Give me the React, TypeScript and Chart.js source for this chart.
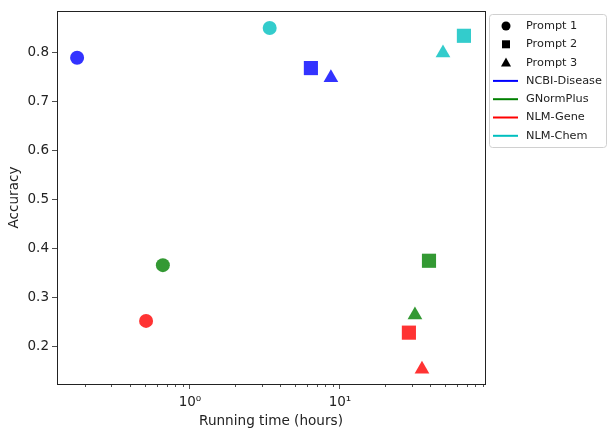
import React, { useRef, useEffect } from 'react';
import { Chart, registerables } from 'chart.js';

Chart.register(...registerables);

// running time (hours) and accuracy, per dataset, ordered Prompt 1, Prompt 2, Prompt 3
const ncbiTime = [0.177, 6.4, 8.7];
const ncbiAcc = [0.79, 0.769, 0.749];
const gnormTime = [0.66, 39.2, 31.6];
const gnormAcc = [0.366, 0.375, 0.264];
const geneTime = [0.51, 28.8, 35.2];
const geneAcc = [0.252, 0.228, 0.153];
const chemTime = [3.4, 67, 48.6];
const chemAcc = [0.851, 0.835, 0.8];

const promptLabels = ['Prompt 1', 'Prompt 2', 'Prompt 3'];
const datasetLabels = ['NCBI-Disease', 'GNormPlus', 'NLM-Gene', 'NLM-Chem'];
const yTicks = [0.2, 0.3, 0.4, 0.5, 0.6, 0.7, 0.8];
const xMajor = [1, 10];
const xMinor = [0.2, 0.3, 0.4, 0.5, 0.6, 0.7, 0.8, 0.9, 2, 3, 4, 5, 6, 7, 8, 9, 20, 30, 40, 50, 60, 70, 80, 90];

const lineColors = ['#0000ff', '#008000', '#ff0000', '#00bfbf'];
const fillColors = ['rgba(0,0,255,0.8)', 'rgba(0,128,0,0.8)', 'rgba(255,0,0,0.8)', 'rgba(0,191,191,0.8)'];
const shapes = ['circle', 'rect', 'triangle'];
const sizes = [7, 10, 8.5];
const FONT = "'DejaVu Sans', sans-serif";

const frameAndLegend = {
  id: 'frameAndLegend',
  afterDraw(chart: any) {
    const { ctx, chartArea: a } = chart;
    const xs = chart.scales.x;
    ctx.save();
    // minor ticks on the log axis
    ctx.strokeStyle = '#222';
    ctx.lineWidth = 0.8;
    xMinor.forEach((v) => {
      const px = Math.round(xs.getPixelForValue(v)) + 0.5;
      if (px < a.left || px > a.right) return;
      ctx.beginPath();
      ctx.moveTo(px, a.bottom);
      ctx.lineTo(px, a.bottom + 3);
      ctx.stroke();
    });
    // spines
    ctx.lineWidth = 1;
    ctx.strokeStyle = '#222';
    ctx.strokeRect(Math.round(a.left) + 0.5, Math.round(a.top) + 0.5, Math.round(a.right - a.left), Math.round(a.bottom - a.top));

    // legend
    const lx = 489, ly = 14, lw = 118, lh = 133;
    ctx.fillStyle = 'rgba(255,255,255,0.8)';
    ctx.strokeStyle = '#d0d0d0';
    ctx.beginPath();
    ctx.roundRect(lx + 0.5, ly + 0.5, lw - 1, lh, 3);
    ctx.fill();
    ctx.stroke();
    ctx.font = `11.3px ${FONT}`;
    ctx.textBaseline = 'middle';
    const rowY = (i: number) => ly + 12 + i * 18.3;
    promptLabels.forEach((lab, i) => {
      const cy = rowY(i);
      const cx = 506;
      ctx.fillStyle = '#000';
      ctx.beginPath();
      if (i === 0) ctx.arc(cx, cy, 4.5, 0, Math.PI * 2);
      else if (i === 1) ctx.rect(cx - 4, cy - 4, 8, 8);
      else {
        ctx.moveTo(cx, cy - 5);
        ctx.lineTo(cx + 5, cy + 4);
        ctx.lineTo(cx - 5, cy + 4);
        ctx.closePath();
      }
      ctx.fill();
      ctx.fillStyle = '#222';
      ctx.fillText(lab, 526, cy);
    });
    datasetLabels.forEach((lab, i) => {
      const cy = rowY(i + 3);
      ctx.strokeStyle = lineColors[i];
      ctx.lineWidth = 2;
      ctx.beginPath();
      ctx.moveTo(493, cy);
      ctx.lineTo(518, cy);
      ctx.stroke();
      ctx.fillStyle = '#222';
      ctx.fillText(lab, 526, cy);
    });
    ctx.restore();
  },
};

const ScatterChart: React.FC = () => {
  const chartRef = useRef<HTMLCanvasElement | null>(null);

  useEffect(() => {
    if (!chartRef.current) return;
    const times = [ncbiTime, gnormTime, geneTime, chemTime];
    const accs = [ncbiAcc, gnormAcc, geneAcc, chemAcc];

    const chart = new Chart(chartRef.current, {
      type: 'scatter',
      data: {
        datasets: datasetLabels.map((label, i) => ({
          label,
          data: times[i].map((t, j) => ({ x: t, y: accs[i][j] })),
          pointStyle: shapes,
          pointRadius: sizes,
          pointBackgroundColor: fillColors[i],
          pointBorderColor: fillColors[i],
          pointBorderWidth: 0,
          showLine: false,
        })),
      },
      options: {
        animation: false,
        responsive: true,
        maintainAspectRatio: false,
        layout: { padding: { top: 10, right: 123, left: 0, bottom: 0 } },
        plugins: { legend: { display: false }, tooltip: { enabled: false } },
        scales: {
          x: {
            type: 'logarithmic',
            min: 0.13,
            max: 92.6,
            afterBuildTicks: (scale: any) => {
              scale.ticks = xMajor.map((v) => ({ value: v, major: true }));
            },
            afterFit: (scale: any) => {
              scale.height = 49;
            },
            border: { display: false },
            grid: { drawOnChartArea: false, tickLength: 5, tickColor: '#222', tickWidth: 0.8 },
            ticks: {
              color: '#222',
              font: { family: FONT, size: 13.5 },
              padding: 5,
              maxRotation: 0,
              autoSkip: false,
              callback: (v: any) => (v === 1 ? '10\u2070' : v === 10 ? '10\u00b9' : ''),
            },
            title: {
              display: true,
              text: 'Running time (hours)',
              color: '#222',
              font: { family: FONT, size: 13.6 },
              padding: { top: 0, bottom: 3 },
            },
          },
          y: {
            min: 0.123,
            max: 0.8855,
            afterBuildTicks: (scale: any) => {
              scale.ticks = yTicks.map((v) => ({ value: v }));
            },
            afterFit: (scale: any) => {
              scale.width = 57;
            },
            border: { display: false },
            grid: { drawOnChartArea: false, tickLength: 5, tickColor: '#222', tickWidth: 0.8 },
            ticks: {
              color: '#222',
              font: { family: FONT, size: 13.5 },
              padding: 3,
              callback: (v: any) => Number(v).toFixed(1),
            },
            title: {
              display: true,
              text: 'Accuracy',
              color: '#222',
              font: { family: FONT, size: 13.6 },
              padding: { top: 6, bottom: 0 },
            },
          },
        },
      },
      plugins: [frameAndLegend],
    });

    return () => {
      chart.destroy();
    };
  }, []);

  return (
    <div style={{ position: 'fixed', left: 0, top: 0, width: 608, height: 433, background: '#fff' }}>
      <canvas ref={chartRef}></canvas>
    </div>
  );
};

export default function App() {
  return <ScatterChart />;
}
